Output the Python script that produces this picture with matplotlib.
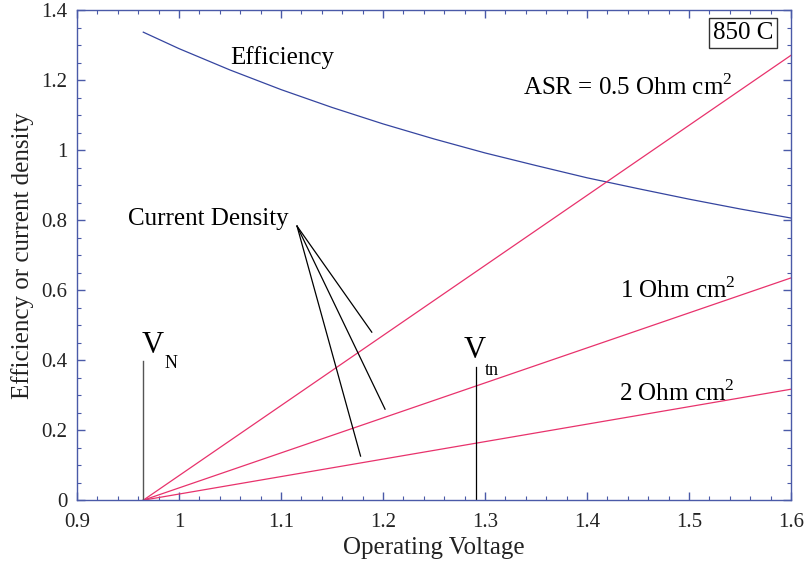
import numpy as np
import matplotlib
matplotlib.use('Agg')
import matplotlib.pyplot as plt
from matplotlib.ticker import MultipleLocator, FormatStrFormatter

plt.rcParams['font.family'] = ['Liberation Serif', 'DejaVu Serif']
plt.rcParams['mathtext.fontset'] = 'custom'
plt.rcParams['mathtext.rm'] = 'Liberation Serif'

# Efficiency curve
eff_v = [0.965, 1.0, 1.05, 1.1, 1.15, 1.2, 1.25, 1.3, 1.35, 1.4, 1.45, 1.5, 1.55, 1.6]
eff_val = [1.337, 1.290, 1.229, 1.173, 1.122, 1.075, 1.032, 0.992, 0.956,
           0.921, 0.890, 0.860, 0.832, 0.806]

# Current density lines (start at V_N, end at right edge)
cd_v = [0.965, 1.6]
cd_asr_05 = [0.0, 1.271]
cd_asr_1 = [0.0, 0.635]
cd_asr_2 = [0.0, 0.317]

v_nernst = 0.965
v_tn = 1.291

axis_col = '#4a5aa8'
red = '#e8326c'

fig = plt.figure(figsize=(8.07, 5.62), dpi=100)
ax = fig.add_axes([0.0954, 0.110, 0.8848, 0.872])

ax.plot(eff_v, eff_val, color='#3545a0', lw=0.9)
for vals in (cd_asr_05, cd_asr_1, cd_asr_2):
    ax.plot(cd_v, vals, color=red, lw=0.9)

# marker lines for V_N and V_tn
ax.plot([v_nernst, v_nernst], [0, 0.397], color='#555555', lw=1.0)
ax.plot([v_tn, v_tn], [0, 0.381], color='black', lw=0.9)

# labels
ax.text(0.9634, 0.42, 'V', fontsize=22, ha='left', va='baseline')
ax.text(0.9855, 0.377, 'N', fontsize=13, ha='left', va='baseline')
ax.text(1.279, 0.406, 'V', fontsize=22, ha='left', va='baseline')
ax.text(1.300, 0.357, 'tn', fontsize=13, ha='left', va='baseline')

ax.text(1.101, 1.266, 'Efficiency', fontsize=18, ha='center', va='center')
ax.text(1.337, 1.18, r'ASR = 0.5 Ohm cm$^{2}$', fontsize=18, ha='left', va='center')
ax.text(1.432, 0.60, r'1 Ohm cm$^{2}$', fontsize=18, ha='left', va='center')
ax.text(1.431, 0.306, r'2 Ohm cm$^{2}$', fontsize=18, ha='left', va='center')
ax.text(1.553, 1.334, '850 C', fontsize=18, ha='center', va='center',
        bbox=dict(boxstyle='square,pad=0.15', fc='white', ec='#333333', lw=1.0))

ax.text(1.029, 0.803, 'Current Density', fontsize=18, ha='center', va='center')
for end in [(1.189, 0.48), (1.202, 0.26), (1.178, 0.126)]:
    ax.plot([1.1157, end[0]], [0.783, end[1]], color='black', lw=0.9)

ax.set_xlim(0.9, 1.6)
ax.set_ylim(0, 1.4)
ax.xaxis.set_major_locator(MultipleLocator(0.1))
ax.xaxis.set_minor_locator(MultipleLocator(0.02))
ax.yaxis.set_major_locator(MultipleLocator(0.2))
ax.yaxis.set_minor_locator(MultipleLocator(0.05))
ax.xaxis.set_major_formatter(FormatStrFormatter('%g'))
ax.yaxis.set_major_formatter(FormatStrFormatter('%g'))
ax.tick_params(which='both', direction='in', top=True, right=True,
               color=axis_col, labelsize=15, labelcolor='#222222')
ax.tick_params(which='major', length=6, width=1)
ax.tick_params(which='minor', length=3, width=0.8)
ax.tick_params(axis='x', which='major', pad=9)
ax.tick_params(axis='y', which='major', pad=7)
for s in ax.spines.values():
    s.set_color(axis_col)
    s.set_linewidth(1.0)

ax.set_xlabel('Operating Voltage', fontsize=18, color='#222222', labelpad=4)
ax.set_ylabel('Efficiency or current density', fontsize=18, color='#222222', labelpad=5)

fig.savefig('out.png', dpi=100)
